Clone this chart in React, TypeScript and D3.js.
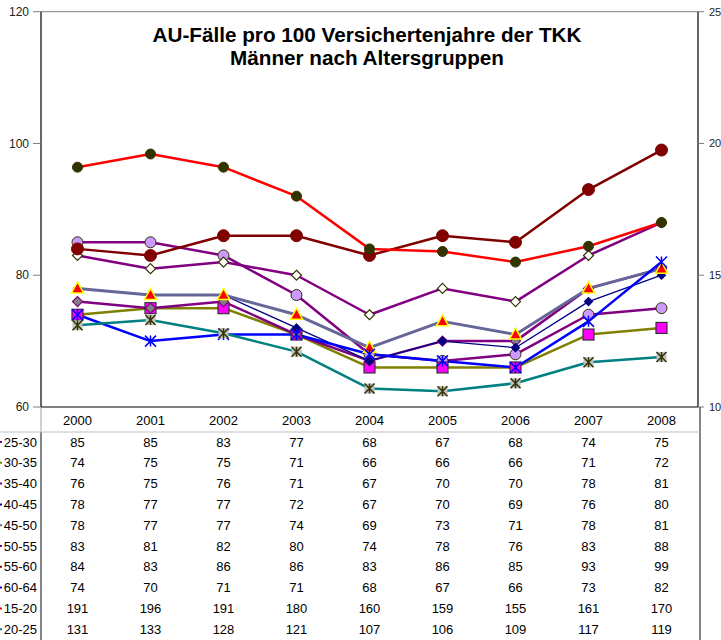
import React from "react";
import * as d3 from "d3";

const years = ["2000", "2001", "2002", "2003", "2004", "2005", "2006", "2007", "2008"];
const seriesNames = ["25-30", "30-35", "35-40", "40-45", "45-50", "50-55", "55-60", "60-64", "15-20", "20-25"];
const v2530 = [85, 85, 83, 77, 68, 67, 68, 74, 75];
const v3035 = [74, 75, 75, 71, 66, 66, 66, 71, 72];
const v3540 = [76, 75, 76, 71, 67, 70, 70, 78, 81];
const v4045 = [78, 77, 77, 72, 67, 70, 69, 76, 80];
const v4550 = [78, 77, 77, 74, 69, 73, 71, 78, 81];
const v5055 = [83, 81, 82, 80, 74, 78, 76, 83, 88];
const v5560 = [84, 83, 86, 86, 83, 86, 85, 93, 99];
const v6064 = [74, 70, 71, 71, 68, 67, 66, 73, 82];
const v1520 = [191, 196, 191, 180, 160, 159, 155, 161, 170];
const v2025 = [131, 133, 128, 121, 107, 106, 109, 117, 119];
const leftTicks = [60, 80, 100, 120];
const rightTicks = [10, 15, 20, 25];
const titleLines = ["AU-Fälle pro 100 Versichertenjahre der TKK", "Männer nach Altersgruppen"];

type Marker = "circle" | "square" | "diamond" | "triangle" | "star" | "xsquare";
interface Style { color: string; width: number; marker: Marker; size: number; fill: string; stroke: string; right?: boolean; }

const values = [v2530, v3035, v3540, v4045, v4550, v5055, v5560, v6064, v1520, v2025];
const styles: Style[] = [
  { color: "#800080", width: 2.5, marker: "circle", size: 5.5, fill: "#CC99FF", stroke: "#333300" },
  { color: "#808000", width: 2.5, marker: "square", size: 11, fill: "#FF00FF", stroke: "#333333" },
  { color: "#800080", width: 2.5, marker: "diamond", size: 10, fill: "#808080", stroke: "#800080" },
  { color: "#000080", width: 1.3, marker: "diamond", size: 8, fill: "#000080", stroke: "#000080" },
  { color: "#666699", width: 3, marker: "triangle", size: 11, fill: "#FF0000", stroke: "#FFFF00" },
  { color: "#800080", width: 2.5, marker: "diamond", size: 10, fill: "#FFFFFF", stroke: "#333300" },
  { color: "#800000", width: 2.5, marker: "circle", size: 6, fill: "#800000", stroke: "#800000" },
  { color: "#0000FF", width: 2.5, marker: "star", size: 11, fill: "none", stroke: "#0000FF" },
  { color: "#FF0000", width: 2.5, marker: "circle", size: 5, fill: "#333300", stroke: "#333300", right: true },
  { color: "#008080", width: 2.5, marker: "xsquare", size: 10, fill: "#C0C0C0", stroke: "#333300", right: true },
];

const W = 721, H = 640;
const plotL = 41, plotR = 698, plotT = 11.7, plotB = 407;

function MarkerShape({ s, x, y }: { s: Style; x: number; y: number }) {
  const h = s.size / 2;
  switch (s.marker) {
    case "circle":
      return <circle cx={x} cy={y} r={s.size} fill={s.fill} stroke={s.stroke} strokeWidth={1} />;
    case "square":
      return <rect x={x - h} y={y - h} width={s.size} height={s.size} fill={s.fill} stroke={s.stroke} strokeWidth={1.2} />;
    case "diamond":
      return <path d={`M${x},${y - h}L${x + h},${y}L${x},${y + h}L${x - h},${y}Z`} fill={s.fill} stroke={s.stroke} strokeWidth={1.2} />;
    case "triangle":
      return <path d={`M${x},${y - h - 1}L${x + h + 0.5},${y + h - 1}L${x - h - 0.5},${y + h - 1}Z`} fill={s.fill} stroke={s.stroke} strokeWidth={1.5} />;
    case "star":
      return (
        <path d={`M${x - h},${y - h}L${x + h},${y + h}M${x - h},${y + h}L${x + h},${y - h}M${x},${y - h}L${x},${y + h}`} stroke={s.stroke} strokeWidth={1.5} fill="none" />
      );
    case "xsquare":
      return (
        <g>
          <rect x={x - h} y={y - h} width={s.size} height={s.size} fill={s.fill} stroke="none" />
          <path d={`M${x - h},${y - h}L${x + h},${y + h}M${x - h},${y + h}L${x + h},${y - h}M${x},${y - h}L${x},${y + h}`} stroke={s.stroke} strokeWidth={1.5} fill="none" />
        </g>
      );
  }
  return null;
}

export default function App() {
  const x = d3.scaleBand<string>().domain(years).range([plotL, plotR]);
  const cx = (y: string) => (x(y) as number) + x.bandwidth() / 2;
  const yL = d3.scaleLinear().domain([60, 120]).range([plotB, plotT]);
  const yR = d3.scaleLinear().domain([10, 25]).range([plotB, plotT]);
  const yFor = (i: number, v: number) => (styles[i].right ? yR(v / 10) : yL(v));
  const line = (i: number) =>
    d3.line<number>().x((_, k) => cx(years[k])).y((v) => yFor(i, v))(values[i]) as string;

  const headerY = 420;
  const rowY0 = 442;
  const rowStep = 20.8;
  const font = "'Liberation Sans', Arial, sans-serif";

  return (
    <svg width={W} height={H} style={{ position: "absolute", left: 0, top: 0, background: "#fff" }} fontFamily={font}>
      <rect x={0} y={0} width={W} height={H} fill="#fff" />
      {/* plot frame */}
      <line x1={plotL} x2={plotR} y1={plotT} y2={plotT} stroke="#808080" strokeWidth={1} />
      <line x1={plotL} x2={plotL} y1={plotT} y2={plotB} stroke="#000" strokeWidth={1.2} />
      <line x1={plotR} x2={plotR} y1={plotT} y2={plotB} stroke="#000" strokeWidth={1.2} />
      <line x1={plotL} x2={plotR} y1={plotB} y2={plotB} stroke="#000" strokeWidth={1.2} />
      {/* left ticks */}
      {leftTicks.map((t) => (
        <g key={"l" + t}>
          <line x1={plotL - 8} x2={plotL} y1={yL(t)} y2={yL(t)} stroke="#808080" />
          <text x={29} y={yL(t)} dy="0.35em" textAnchor="end" fontSize={12} fill="#222">{t}</text>
        </g>
      ))}
      {rightTicks.map((t) => (
        <g key={"r" + t}>
          <line x1={plotR} x2={plotR + 6} y1={yR(t)} y2={yR(t)} stroke="#808080" />
          <text x={709} y={yR(t)} dy="0.35em" textAnchor="start" fontSize={11} fill="#222">{t}</text>
        </g>
      ))}
      {/* title */}
      {titleLines.map((t, i) => (
        <text key={t} x={367} y={42 + i * 23} textAnchor="middle" fontSize={20.7} fontWeight="bold" fill="#000">{t}</text>
      ))}
      {/* series lines */}
      {values.map((_, i) => (
        <path key={"p" + i} d={line(i)} fill="none" stroke={styles[i].color} strokeWidth={styles[i].width} strokeLinejoin="round" />
      ))}
      {values.map((vals, i) =>
        vals.map((v, k) => <MarkerShape key={`m${i}-${k}`} s={styles[i]} x={cx(years[k])} y={yFor(i, v)} />)
      )}
      {/* data table */}
      <line x1={plotL} x2={plotL} y1={plotB} y2={432} stroke="#a0a0a0" />
      <line x1={plotL} x2={plotL} y1={432} y2={H} stroke="#333" strokeWidth={1.2} />
      <line x1={700} x2={700} y1={plotB} y2={H} stroke="#333" strokeWidth={1.2} />
      <line x1={0} x2={700} y1={432} y2={432} stroke="#c0c0c0" />
      {years.map((y) => (
        <text key={"h" + y} x={cx(y)} y={headerY} dy="0.35em" textAnchor="middle" fontSize={13} fill="#000">{y}</text>
      ))}
      {seriesNames.map((name, i) => {
        const ry = rowY0 + i * rowStep;
        return (
          <g key={"row" + name}>
            <line x1={-12} x2={2} y1={ry} y2={ry} stroke={styles[i].color} strokeWidth={2} />
            <text x={37} y={ry} dy="0.35em" textAnchor="end" fontSize={13} fill="#000">{name}</text>
            {values[i].map((v, k) => (
              <text key={k} x={cx(years[k])} y={ry} dy="0.35em" textAnchor="middle" fontSize={13} fill="#000">{v}</text>
            ))}
          </g>
        );
      })}
    </svg>
  );
}
